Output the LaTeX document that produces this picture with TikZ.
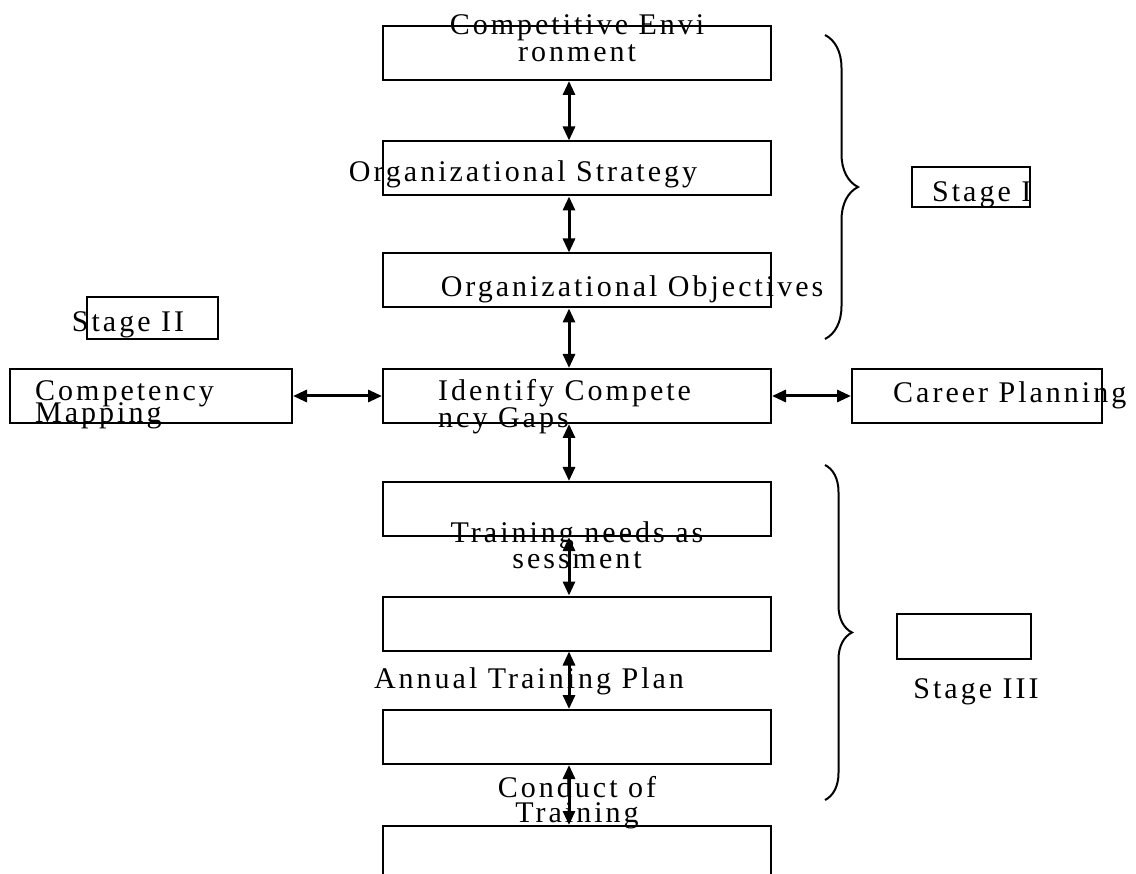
\documentclass[tikz,border=0pt]{standalone}
\usepackage{fontspec}
\setmainfont[LetterSpace=10]{Liberation Serif}
\usetikzlibrary{arrows.meta}
\usetikzlibrary{decorations.pathreplacing}

\begin{document}
\begin{tikzpicture}[x=1pt, y=-1pt, inner sep=0pt, font=\fontsize{30}{25}\selectfont]
    \tikzstyle{blk}=[rectangle, draw=black, line width=2pt, minimum width=388pt, minimum height=54pt]
    \tikzstyle{side}=[rectangle, draw=black, line width=2pt, minimum height=54pt]
    \tikzstyle{tag}=[rectangle, draw=black, line width=2pt]
    \tikzstyle{lbl}=[align=center, text=black, anchor=base]
    \tikzstyle{link}=[{Triangle[length=14pt,width=12pt]}-{Triangle[length=14pt,width=12pt]}, line width=3pt]
    \tikzstyle{brc}=[decorate, line width=2pt]

    \useasboundingbox (0,0) rectangle (1136,874);

    % main column
    \node[blk] (env) at (577,53) {};
    \node[blk] (strat) at (577,168.5) {};
    \node[blk] (obj) at (577,280.5) {};
    \node[blk] (gap) at (577,396) {};
    \node[blk] (tna) at (577,509) {};
    \node[blk] (atp) at (577,623.5) {};
    \node[blk] (cot) at (577,737) {};
    \node[blk] (last) at (577,853) {};

    % side boxes
    \node[side, minimum width=282pt] (map) at (151,396) {};
    \node[side, minimum width=250pt] (car) at (977,396) {};
    \node[tag, minimum width=131pt, minimum height=42pt] (s2) at (152.5,318) {};
    \node[tag, minimum width=118pt, minimum height=40pt] (s1) at (971,187) {};
    \node[tag, minimum width=134pt, minimum height=45pt] (s3) at (964,636.5) {};

    % labels (base of a two-line label = its last line)
    \node[lbl] (lenv) at (577,62) {Competitive Envi\\[2pt]ronment};
    \node[lbl] (lstrat) at (523,182) {Organizational Strategy};
    \node[lbl] (lobj) at (632,297) {Organizational Objectives};
    \node[lbl, align=left, anchor=base west] (lgap) at (438,428) {Identify Compete\\ncy Gaps};
    \node[lbl, align=left, anchor=base west] (lmap) at (35,423) {Competency\\[-5pt]Mapping};
    \node[lbl, anchor=base west] (lcar) at (893,403) {Career Planning};
    \node[lbl] (ltna) at (577,568) {Training needs as\\sessment};
    \node[lbl] (latp) at (529,688) {Annual Training Plan};
    \node[lbl] (lcot) at (577,822) {Conduct of\\Training};
    \node[lbl] (ls2) at (128,332) {Stage II};
    \node[lbl, anchor=base west] (ls1) at (932,202) {Stage I};
    \node[lbl] (ls3) at (976,698) {Stage III};

    % arrows
    \coordinate (ax) at (569,0);
    \draw[link] (env.south -| ax) -- (strat.north -| ax);
    \draw[link] (strat.south -| ax) -- (obj.north -| ax);
    \draw[link] (obj.south -| ax) -- (gap.north -| ax);
    \draw[link] (gap.south -| ax) -- (tna.north -| ax);
    \draw[link] (tna.south -| ax) -- (atp.north -| ax);
    \draw[link] (atp.south -| ax) -- (cot.north -| ax);
    \draw[link] (cot.south -| ax) -- (last.north -| ax);
    \draw[link] (map.east) -- (gap.west);
    \draw[link] (gap.east) -- (car.west);

    % braces
    \coordinate (b1t) at (825,35);
    \coordinate (b1b) at (825,339);
    \coordinate (b3t) at (825,465);
    \coordinate (b3b) at (825,800);
    \draw[brc, decoration={brace, amplitude=33pt}] (b1t) -- (b1b);
    \draw[brc, decoration={brace, amplitude=27pt}] (b3t) -- (b3b);
\end{tikzpicture}
\end{document}
